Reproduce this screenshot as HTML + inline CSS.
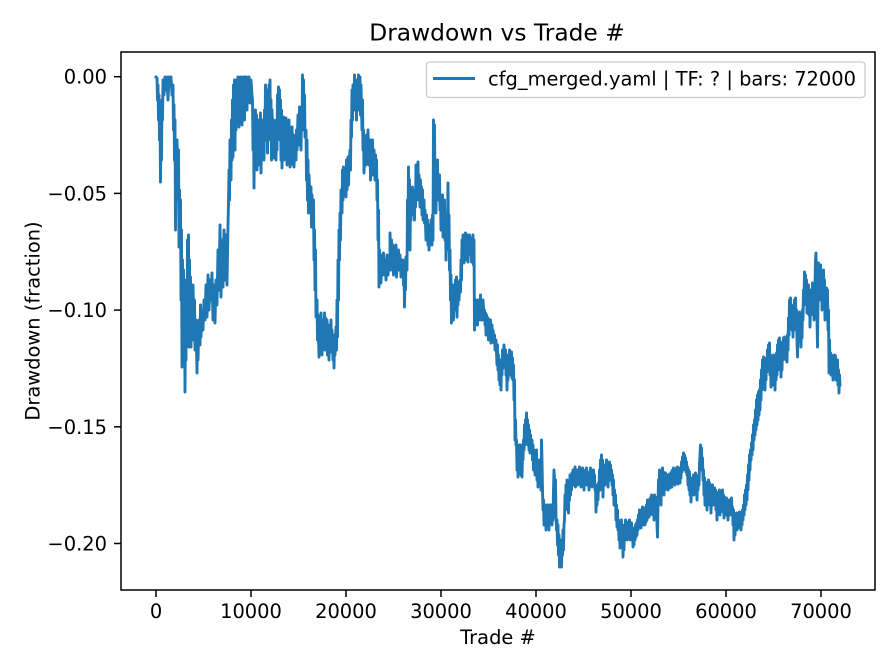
<!DOCTYPE html>
<html><head><meta charset="utf-8"><style>
html,body{margin:0;padding:0;background:#fff;}
svg{display:block;}
text{font-family:"DejaVu Sans","Liberation Sans",sans-serif;fill:#000;font-size:19.44px;}
</style></head><body>
<svg width="896" height="672" viewBox="0 0 896 672" xmlns="http://www.w3.org/2000/svg">
<rect x="0" y="0" width="896" height="672" fill="#fff"/>
<text x="497" y="40.7" style="font-size:23.33px" text-anchor="middle">Drawdown vs Trade #</text>
<polyline fill="none" stroke="#1f77b4" stroke-width="2.9" stroke-linejoin="round" stroke-linecap="square" points="156,77 157,78 157.5,100 158,85 158.5,120 159,95 159.5,140 160,110 160.5,182 161,130 161.5,160 162,100 162.5,120 163,80 164,95 165,77 166,90 167,77 168,100 169,77 170,85 171,77 172,95 173,85 173.5,130 174,105 174.5,160 175,120 175.5,230 176,150 176.5,200 177,140 178,180 178.5,150 179,247 179.5,190 180,240 180.5,200 181,300 181.5,230 182,367 182.5,260 183,330 183.5,270 184,340 184.5,280 185,392 185.5,300 186,360 186.5,280 187,330 187.5,240 188,300 188.5,235 189,347 189.5,260 190,320 190.5,277 191,347 192,290 192.5,340 193,285 194,330 194.5,300 195,350 196,320 197,373 197.5,330 198,360 199,320 200,345 200.5,305 201,337 202,310 203,330 204,300 205,320 206,285 207,317 208,275 209,310 210,280 211,300 212,273 213,320 214,285 215,323 216,280 217,305 218,250 219,290 220,225 221,297 222,240 223,287 224,230 225,280 226,235 227,285 228,225 228.5,203 229,170 229.5,200 230,140 231,180 231.5,120 232,160 232.5,100 233,157 233.5,85 234,140 234.5,80 235,150 235.5,90 236,130 236.5,80 237,120 238,77 239,127 239.5,90 240,115 240.5,77 241,110 241.5,80 242,125 243,77 243.5,100 244,85 244.5,120 245,77 246,100 246.5,77 247,110 247.5,80 248,95 249,77 250,103 251,80 252,95 252.5,100 253,150 253.5,110 254,188 254.5,130 255,160 255.5,110 256,150 256.5,115 257,170 258,130 258.5,165 259,120 260,160 260.5,113 261,173 262,130 262.5,150 263,120 264,160 264.5,110 265,130 265.5,85 266,140 267,90 267.5,153 268,95 268.5,130 269,85 270,120 270,80 270.5,140 271,100 271.5,160 272,110 273,150 273.5,120 274,158 275,130 276,160 276.5,120 277,150 277.5,95 278,130 278.5,87 279,120 279.5,90 280,140 280.5,100 281,160 281.5,110 282,168 282.5,130 283,150 283.5,117 284,160 285,125 285.5,150 286,118 287,165 287.5,130 288,155 289,120 290,167 290.5,135 291,160 292,127 293,165 293.5,135 294,167 295,140 296,160 296.5,130 297,150 298,115 299,145 299.5,107 300,140 300.5,110 301,150 301.5,115 302,130 302.5,75 303,120 303.5,80 304,130 304.5,95 305,137 306,130 306.5,180 307,140 307.5,200 308,160 308.5,213 309,175 310,200 311,187 311.5,227 312,195 313,220 313.5,200 314,260 314.5,230 315,290 315.5,250 316,317 317,300 317.5,340 318,315 319,357 319.5,320 320,350 321,313 322,355 323,320 324,345 324.5,313 325,350 325.5,318 326,340 327,320 327.5,355 328,330 329,360 329.5,325 330,345 331,320 331.5,352 332,330 333,360 333.5,335 334,368 334.5,340 335,355 336,327 336.5,350 337,300 337.5,337 338,260 338.5,300 339,230 339.5,260 340,213 340.5,240 341,190 342,213 342.5,170 343,200 343.5,167 344,195 345,170 346,197 346.5,160 347,190 348,157 348.5,185 349,165 350,150 350.5,170 351,120 351.5,137 352,90 352.5,120 353,85 354,110 354.5,75 355,105 356,80 356.5,120 357,85 358,110 358.5,75 359,100 360,77 360.5,115 361,85 362,130 362.5,100 363,150 363.5,130 364,173 365,140 366,165 366.5,135 367,160 368,130 369,165 370,140 370.5,180 371,150 372,170 372.5,140 373,175 374,150 375,180 375.5,155 376,175 376.5,160 377,200 377.5,180 378,240 378.5,210 379,287 379.5,250 380,280 380.5,260 381,283 382,255 383,275 383.5,253 384,270 385,260 386,280 387,255 388,275 389,260 390,270 390,233 391,260 391.5,240 392,270 393,245 393.5,275 394,250 395,270 396,245 396.5,277 397,255 398,265 398.5,250 399,270 400,255 401,277 401.5,260 402,270 403,260 403.5,285 404,270 404.5,307 405,280 405.5,290 406,257 407,270 407.5,200 408,230 408.5,167 409,210 409.5,180 410,250 410.5,200 411,220 411.5,190 412,215 412.5,187 413,210 414,195 414.5,220 415,190 415.5,207 416,165 416.5,200 417,170 417.5,190 418,162 418.5,200 419,175 420,207 420.5,180 421,200 421.5,187 422,215 422.5,190 423,220 424,200 424.5,223 425,210 426,240 426.5,215 427,235 427.5,220 428,245 428.5,225 429,250 430,230 430.5,245 431,220 432,245 432.5,215 433,240 433.5,120 434,160 434.5,125 435,200 435.5,160 436,213 436.5,170 437,190 437.5,160 438,200 438.5,175 439,195 439.5,175 440,210 440.5,195 441,230 441.5,200 442,220 442.5,195 443,237 443.5,205 444,225 444.5,200 445,240 445.5,215 446,260 446.5,220 447,250 447.5,225 448,183 448.5,240 449,215 449.5,270 450,250 450.5,300 451,275 451.5,323 452,290 452.5,310 453,285 453.5,320 454,290 455,310 455.5,280 456,300 456.5,277 457,317 457.5,290 458,305 458.5,282 459,300 460,280 460.5,292 461,260 461.5,280 462,240 462.5,255 463,235 464,263 464.5,240 465,258 465.5,233 466,260 466.5,238 467,250 467.5,235 468,262 468.5,240 469,255 469.5,235 470,250 471,238 471.5,262 472,240 472.5,255 473,235 473.5,265 474,240 474.5,330 475,300 475.5,325 476,300 476.5,315 477,305 477.5,325 478,300 479,320 479.5,305 480,318 480.5,295 481,320 482,305 482.5,320 483,300 484,315 484.5,310 485,325 485.5,313 486,335 486.5,315 487,330 488,318 488.5,340 489,320 490,335 490.5,320 491,343 492,325 492.5,340 493,330 494,343 494.5,335 495,350 496,340 497,365 497.5,345 498,370 498.5,355 499,380 499.5,360 500,385 500.5,370 501,390 501.5,360 502,375 502.5,350 503,368 504,345 505,360 505.5,350 506,375 506.5,355 507,390 507.5,360 508,380 508.5,355 509,370 509.5,350 510,375 510.5,355 511,365 511.5,352 512,378 512.5,358 513,380 513.5,365 514,400 514.5,380 515,440 515.5,420 516,445 516.5,440 517,470 517.5,445 518,477 518.5,450 519,460 519.5,445 520,465 520.5,445 521,475 521.5,455 522,477 522.5,455 523,460 523.5,440 524,450 524.5,425 525,445 525.5,420 526,440 526.5,413 527,430 527.5,420 528,445 528.5,425 529,450 529.5,430 530,453 530.5,435 531,445 532,440 532.5,460 533,445 533.5,470 534,450 535,475 535.5,455 536,470 536.5,450 537,480 537.5,460 538,487 538.5,465 539,475 539.5,460 540,485 540.5,470 541,490 541.5,440 542,460 542.5,490 543,510 543.5,500 544,525 544.5,505 545,515 545.5,505 546,530 546.5,510 547,520 547.5,505 548,525 548.5,510 549,530 549.5,505 550,520 550.5,505 551,515 551.5,505 552,525 552.5,510 553,520 553.5,490 554,470 554.5,480 555,500 555.5,480 556,517 556.5,530 557,520 557.5,545 558,525 558.5,555 559,535 559.5,567 560,545 560.5,560 561,540 561.5,567 562,545 562.5,555 563,530 563.5,550 564,525 564.5,520 565,495 565.5,510 566,485 566.5,505 567,480 567.5,500 568,490 568.5,513 569,490 569.5,500 570,475 570.5,495 571,480 571.5,490 572,473 572.5,480 573,470 573.5,485 574,470 574.5,480 575,467 575.5,487 576,472 576.5,480 577,470 578,485 578.5,470 579,478 579.5,467 580,480 580.5,470 581,487 581.5,472 582,482 582.5,468 583,478 583.5,472 584,490 584.5,475 585,485 585.5,470 586,480 586.5,468 587,485 587.5,472 588,480 588.5,475 589,490 589.5,475 590,483 590.5,468 591,480 591.5,470 592,487 592.5,475 593,482 593.5,470 594,485 594.5,475 595,490 595.5,485 596,512 596.5,495 597,505 597.5,485 598,500 598.5,483 599,490 599.5,470 600,490 600.5,460 601,480 601.5,455 602,475 602.5,460 603,497 603.5,475 604,480 604.5,465 605,485 605.5,470 606,480 606.5,460 607,475 607.5,463 608,487 608.5,468 609,478 609.5,462 610,480 610.5,465 611,475 611.5,470 612,485 612.5,475 613,495 613.5,480 614,505 614.5,490 615,500 615.5,495 616,520 616.5,505 617,527 617.5,510 618,530 618.5,520 619,540 619.5,525 620,548 620.5,525 621,540 621.5,520 622,545 622.5,530 623,557 623.5,535 624,550 624.5,525 625,540 625.5,520 626,535 626.5,522 627,540 627.5,525 628,538 628.5,522 629,535 629.5,520 630,540 630.5,525 631,535 631.5,523 632,540 632.5,528 633,547 633.5,530 634,545 634.5,528 635,540 635.5,525 636,537 636.5,523 637,535 637.5,520 638,530 638.5,515 639,528 639.5,510 640,525 640.5,512 641,528 641.5,510 642,522 642.5,507 643,525 643.5,510 644,520 644.5,508 645,525 645.5,510 646,522 646.5,505 647,520 647.5,500 648,515 648.5,500 649,517 649.5,502 650,515 650.5,498 651,512 651.5,495 652,510 652.5,497 653,515 653.5,500 654,520 654.5,495 655,512 655.5,497 656,515 656.5,505 657,525 657.5,537 658,505 658.5,480 659,500 659.5,470 660,495 660.5,475 661,505 661.5,478 662,490 662.5,468 663,487 663.5,472 664,495 664.5,475 665,490 665.5,473 666,487 666.5,475 667,488 667.5,475 668,490 668.5,478 669,485 669.5,474 670,488 670.5,476 671,484 671.5,472 672,487 672.5,470 673,482 673.5,468 674,480 674.5,470 675,485 675.5,473 676,482 676.5,468 677,478 677.5,467 678,484 678.5,470 679,480 679.5,468 680,483 680.5,470 681,478 681.5,462 682,472 682.5,457 683,468 683.5,453 684,465 684.5,455 685,470 685.5,458 686,472 686.5,462 687,475 687.5,467 688,485 688.5,470 689,490 689.5,472 690,495 690.5,478 691,502 691.5,482 692,495 692.5,478 693,490 693.5,475 694,495 694.5,478 695,488 695.5,473 696,492 696.5,478 697,500 697.5,480 698,490 698.5,475 699,485 699.5,465 700,455 700.5,445 701,460 701.5,448 702,470 702.5,458 703,480 703.5,470 704,495 704.5,478 705,505 705.5,482 706,500 706.5,485 707,510 707.5,488 708,500 708.5,480 709,495 709.5,483 710,505 710.5,485 711,513 711.5,490 712,500 712.5,485 713,505 713.5,488 714,498 714.5,488 715,505 715.5,490 716,510 716.5,493 717,520 717.5,498 718,510 718.5,492 719,505 719.5,490 720,515 720.5,495 721,510 721.5,492 722,505 722.5,490 723,512 723.5,495 724,518 724.5,497 725,510 725.5,500 726,515 726.5,498 727,510 727.5,500 728,520 728.5,502 729,512 729.5,500 730,515 730.5,502 731,510 731.5,498 732,513 732.5,507 733,525 733.5,510 734,540 734.5,515 735,535 735.5,515 736,525 736.5,513 737,530 737.5,515 738,528 738.5,513 739,525 739.5,512 740,528 740.5,515 741,530 741.5,513 742,525 742.5,510 743,520 743.5,505 744,515 744.5,495 745,510 745.5,490 746,505 746.5,485 747,500 747.5,475 748,490 748.5,465 749,480 749.5,455 750,470 750.5,450 751,460 751.5,443 752,455 752.5,435 753,450 753.5,425 754,440 754.5,420 755,435 755.5,410 756,430 756.5,400 757,425 757.5,395 758,420 758.5,392 759,415 759.5,390 760,410 760.5,380 761,400 761.5,370 762,390 762.5,360 763,385 763.5,357 764,380 764.5,362 765,390 765.5,365 766,380 766.5,358 767,372 767.5,350 768,370 768.5,345 769,365 769.5,343 770,375 770.5,355 771,387 771.5,365 772,383 772.5,360 773,385 773.5,355 774,380 774.5,360 775,390 775.5,365 776,380 776.5,353 777,375 777.5,345 778,370 778.5,340 779,365 779.5,338 780,360 780.5,342 781,377 781.5,355 782,370 782.5,345 783,360 783.5,338 784,355 784.5,337 785,358 785.5,340 786,360 786.5,345 787,362 787.5,335 788,350 788.5,318 789,335 789.5,300 790,325 790.5,298 791,320 791.5,305 792,330 792.5,310 793,337 793.5,315 794,325 794.5,300 795,320 795.5,298 796,330 796.5,310 797,340 797.5,357 798,340 798.5,315 799,335 799.5,312 800,340 800.5,318 801,347 801.5,320 802,338 802.5,310 803,320 803.5,290 804,305 804.5,272 805,295 805.5,275 806,300 806.5,280 807,313 807.5,290 808,310 808.5,285 809,315 809.5,290 810,327 810.5,300 811,315 811.5,290 812,310 812.5,283 813,300 813.5,290 814,320 814.5,300 815,285 815.5,260 816,253 816.5,280 817,320 817.5,347 818,300 818.5,263 819,290 819.5,270 820,300 820.5,265 821,295 821.5,275 822,310 822.5,280 823,300 823.5,270 824,295 824.5,280 825,320 825.5,290 826,305 826.5,288 827,300 827.5,290 828,330 828.5,310 829,373 829.5,340 830,360 830.5,353 831,375 831.5,355 832,370 832.5,358 833,380 833.5,360 834,372 834.5,355 835,368 835.5,356 836,380 836.5,362 837,375 837.5,360 838,385 838.5,370 839,393 839.5,375 840,385"/>
<rect x="121" y="52" width="754" height="538" fill="none" stroke="#000" stroke-width="1.5"/>
<g stroke="#000" stroke-width="1.5">
<line x1="156" y1="590" x2="156" y2="597"/>
<line x1="251" y1="590" x2="251" y2="597"/>
<line x1="346" y1="590" x2="346" y2="597"/>
<line x1="441" y1="590" x2="441" y2="597"/>
<line x1="536" y1="590" x2="536" y2="597"/>
<line x1="631" y1="590" x2="631" y2="597"/>
<line x1="726" y1="590" x2="726" y2="597"/>
<line x1="821" y1="590" x2="821" y2="597"/>
<line x1="114" y1="76.7" x2="121" y2="76.7"/>
<line x1="114" y1="193.4" x2="121" y2="193.4"/>
<line x1="114" y1="310.1" x2="121" y2="310.1"/>
<line x1="114" y1="426.8" x2="121" y2="426.8"/>
<line x1="114" y1="543.5" x2="121" y2="543.5"/>
</g>
<g text-anchor="middle">
<text x="156" y="618">0</text>
<text x="251" y="618">10000</text>
<text x="346" y="618">20000</text>
<text x="441" y="618">30000</text>
<text x="536" y="618">40000</text>
<text x="631" y="618">50000</text>
<text x="726" y="618">60000</text>
<text x="821" y="618">70000</text>
</g>
<g text-anchor="end">
<text x="107" y="83.7">0.00</text>
<text x="107" y="200.4">−0.05</text>
<text x="107" y="317.1">−0.10</text>
<text x="107" y="433.8">−0.15</text>
<text x="107" y="550.5">−0.20</text>
</g>
<text x="498" y="644" text-anchor="middle">Trade #</text>
<text transform="translate(39.5,321) rotate(-90)" text-anchor="middle">Drawdown (fraction)</text>
<rect x="426.5" y="62" width="438.5" height="35.5" rx="3" ry="3" fill="#fff" fill-opacity="0.8" stroke="#cccccc" stroke-width="1.3"/>
<line x1="433" y1="78.5" x2="475" y2="78.5" stroke="#1f77b4" stroke-width="2.9"/>
<text x="488" y="85.5">cfg_merged.yaml | TF: ? | bars: 72000</text>
</svg>
</body></html>
